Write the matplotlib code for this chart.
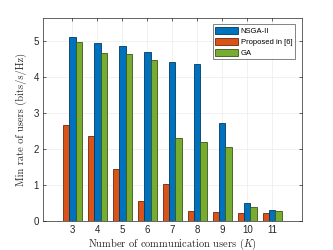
import matplotlib
matplotlib.use("Agg")
import matplotlib.pyplot as plt
import numpy as np

users = [3, 4, 5, 6, 7, 8, 9, 10, 11]
nsga2 = [5.11, 4.94, 4.86, 4.69, 4.42, 4.35, 2.71, 0.49, 0.31]
proposed = [2.66, 2.35, 1.43, 0.55, 1.02, 0.26, 0.25, 0.20, 0.20]
ga = [4.97, 4.65, 4.63, 4.45, 2.30, 2.19, 2.05, 0.38, 0.27]

plt.rcParams['mathtext.fontset'] = 'cm'
plt.rcParams['axes.unicode_minus'] = False
fig = plt.figure(figsize=(3.33, 2.5), dpi=100)
ax = fig.add_axes([43/333, 1 - 220.7/250, (302 - 43)/333, (220.7 - 18.3)/250])

x = np.array(users, dtype=float)
w = 0.25
ax.bar(x - w, proposed, w, color='#D95319', edgecolor='#6b2a0c', linewidth=0.6, label='Proposed in [6]', zorder=3)
ax.bar(x, nsga2, w, color='#0072BD', edgecolor='#003a60', linewidth=0.6, label='NSGA-II', zorder=3)
ax.bar(x + w, ga, w, color='#77AC30', edgecolor='#3b5618', linewidth=0.6, label='GA', zorder=3)

ax.set_xlim(1.82, 12.19)
ax.set_ylim(0, 5.62)
ax.set_xticks(users)
ax.set_yticks([0, 1, 2, 3, 4, 5])
ax.tick_params(direction='in', length=2.5, width=0.5, labelsize=7, colors='#262626', top=True, right=True, pad=3)
for lab in ax.get_xticklabels() + ax.get_yticklabels():
    lab.set_fontfamily('Liberation Sans')
ax.grid(True, color='#ececec', linewidth=0.5, zorder=0)
for s in ax.spines.values():
    s.set_color('#262626')
    s.set_linewidth(0.5)

ax.set_xlabel('Number of communication users ($K$)', family='cmr10', fontsize=7.5, labelpad=1, color='#262626')
ax.set_ylabel('Min rate of users (bits/s/Hz)', family='cmr10', fontsize=7.5, labelpad=5, color='#262626')

handles, labels = ax.get_legend_handles_labels()
order = [1, 0, 2]
leg = ax.legend([handles[i] for i in order], [labels[i] for i in order],
                loc='upper right', bbox_to_anchor=(1 - 7/259, 1 - 5.7/202.4),
                prop={'family': 'Liberation Sans', 'size': 5.5}, frameon=True, fancybox=False,
                edgecolor='#262626', borderpad=0.35, labelspacing=0.35, handlelength=3.0,
                handleheight=1.1, handletextpad=0.3, borderaxespad=0)
leg.get_frame().set_linewidth(0.5)

fig.savefig('out.png', dpi=100)
